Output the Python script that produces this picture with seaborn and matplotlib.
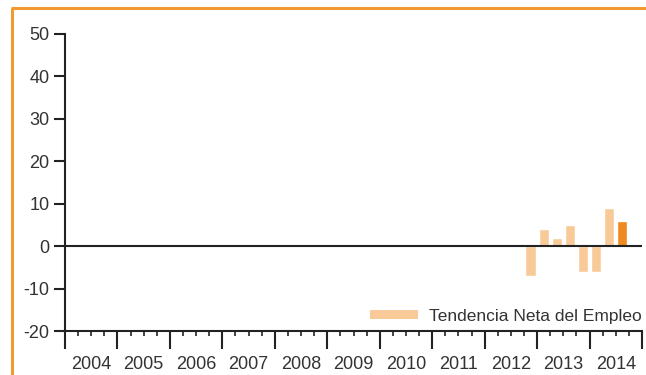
import matplotlib
matplotlib.use("Agg")
import matplotlib.pyplot as plt
from matplotlib.lines import Line2D
from matplotlib.patches import Patch
from matplotlib.ticker import MultipleLocator
import seaborn as sns
import pandas as pd

# Quarterly net employment outlook
quarters = ["2012T4", "2013T1", "2013T2", "2013T3", "2013T4", "2014T1", "2014T2", "2014T3"]
values = [-7, 4, 2, 5, -6, -6, 9, 6]
years = list(range(2004, 2015))
y_ticks = [-20, -10, 0, 10, 20, 30, 40, 50]
series_label = "Tendencia Neta del Empleo"

LIGHT = "#F8CA98"
DARK = "#EE8A1F"
FRAME = "#F29A30"
INK = "#222222"
TEXT = "#333333"

first_year = years[0]


def quarter_pos(q):
    yr, qt = q.split("T")
    return (int(yr) - first_year) * 4 + (int(qt) - 1) + 0.5


df = pd.DataFrame({
    "pos": [quarter_pos(q) for q in quarters],
    "value": values,
    "latest": ["prev"] * (len(quarters) - 1) + ["last"],
})

sns.set_theme(style="white")
plt.rcParams["font.family"] = ["Liberation Sans", "DejaVu Sans"]
plt.rcParams["axes.unicode_minus"] = False

fig = plt.figure(figsize=(6.46, 3.75), dpi=100)
W, H = 646, 375
ax = fig.add_axes([65 / W, 44 / H, (642 - 65) / W, (331 - 34) / H])

sns.barplot(data=df, x="pos", y="value", hue="latest", native_scale=True,
            palette={"prev": LIGHT, "last": DARK}, width=0.77, legend=False,
            saturation=1, ax=ax)

n_q = len(years) * 4
ax.set_xlim(0, n_q)
ax.set_ylim(y_ticks[0], y_ticks[-1])
ax.set_xlabel("")
ax.set_ylabel("")

ax.axhline(0, color=INK, lw=1.5, zorder=3)

for s in ["top", "right"]:
    ax.spines[s].set_visible(False)
for s in ["left", "bottom"]:
    ax.spines[s].set_color(INK)
    ax.spines[s].set_linewidth(1.5)

ax.set_yticks(y_ticks)
ax.tick_params(axis="y", direction="out", length=8, width=1.5, color=INK,
               labelsize=13, labelcolor=TEXT, pad=3, left=True)

ax.xaxis.set_major_locator(MultipleLocator(4))
ax.xaxis.set_minor_locator(MultipleLocator(1))
ax.tick_params(axis="x", which="major", direction="out", length=13, width=1.5,
               color=INK, labelbottom=False, bottom=True)
ax.tick_params(axis="x", which="minor", direction="out", length=3.6, width=1.2,
               color=INK, bottom=True)

for i, yr in enumerate(years):
    ax.text(i * 4 + 2, -0.085, str(yr), transform=ax.get_xaxis_transform(),
            ha="center", va="top", fontsize=13, color=TEXT)

handle = Patch(facecolor=LIGHT, edgecolor="none")
leg = ax.legend([handle], [series_label], loc="lower right",
                bbox_to_anchor=(1.0 + 3 / 577, 0.012), frameon=False, fontsize=12.5,
                handlelength=2.8, handleheight=0.45, handletextpad=0.6,
                borderaxespad=0.0, borderpad=0.2)
for t in leg.get_texts():
    t.set_color(TEXT)

# orange frame on the left and top edges
fig.add_artist(Line2D([12 / W, 12 / W], [0, 1 - 8 / H], color=FRAME, lw=2.2,
                      transform=fig.transFigure, solid_capstyle="butt"))
fig.add_artist(Line2D([11 / W, 1], [1 - 8 / H, 1 - 8 / H], color=FRAME, lw=2.2,
                      transform=fig.transFigure, solid_capstyle="butt"))

fig.savefig("out.png", dpi=100)
